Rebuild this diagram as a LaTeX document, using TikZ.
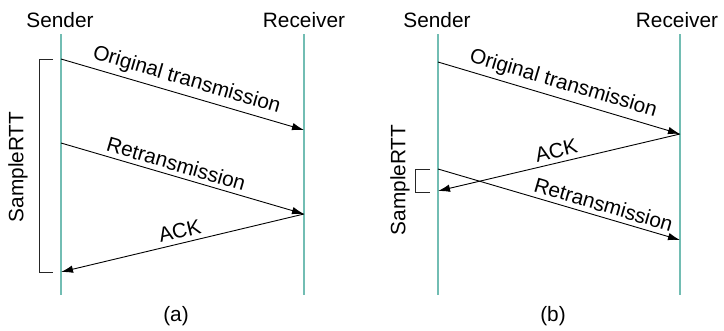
\documentclass[tikz,border=0pt]{standalone}
\usepackage{fontspec}
\setmainfont{Liberation Sans}
\usetikzlibrary{arrows.meta}
\definecolor{lifeline}{HTML}{72BDB3}
\begin{document}
\begin{tikzpicture}[x=1pt,y=-1pt,
  every node/.style={font=\fontsize{20.8}{24}\selectfont, inner sep=0pt},
  lifeln/.style={draw=lifeline, line width=2pt},
  msg/.style={draw=black, line width=0.9pt, -{Latex[length=12pt,width=7.5pt]}},
  brk/.style={draw=black!85, line width=0.9pt},
  lbl/.style={sloped, above=4.5pt}]
\useasboundingbox (0,0) rectangle (724,330);
% panel (a)
\coordinate (sAt) at (61,34); \coordinate (sAb) at (61,295);
\coordinate (rAt) at (304,34); \coordinate (rAb) at (304,295);
\draw[lifeln] (sAt) -- (sAb);
\draw[lifeln] (rAt) -- (rAb);
\node (senderA) at (60,20) {Sender};
\node (receiverA) at (304,20) {Receiver};
\coordinate (a1) at (61,59); \coordinate (a2) at (304,130);
\coordinate (a3) at (61,143); \coordinate (a4) at (304,214);
\coordinate (a5) at (61,272);
\draw[msg] (a1) -- node[lbl] (origA) {Original transmission} (a2);
\draw[msg] (a3) -- node[lbl, pos=0.46] (retrA) {Retransmission} (a4);
\draw[msg] (a4) -- node[lbl] (ackA) {ACK} (a5);
\coordinate (bA1) at (53,59); \coordinate (bA2) at (39,59);
\coordinate (bA3) at (39,272); \coordinate (bA4) at (53,272);
\draw[brk] (bA1) -- (bA2) -- (bA3) -- (bA4);
\node[rotate=90] (rttA) at (18,167) {SampleRTT};
\node (capA) at (176,316) {(a)};
% panel (b)
\coordinate (sBt) at (438,34); \coordinate (sBb) at (438,295);
\coordinate (rBt) at (680,34); \coordinate (rBb) at (680,295);
\draw[lifeln] (sBt) -- (sBb);
\draw[lifeln] (rBt) -- (rBb);
\node (senderB) at (437,20) {Sender};
\node (receiverB) at (677,20) {Receiver};
\coordinate (b1) at (438,62); \coordinate (b2) at (680,134);
\coordinate (b3) at (438,191);
\coordinate (b4) at (438,169); \coordinate (b5) at (680,240);
\draw[msg] (b1) -- node[lbl] (origB) {Original transmission} (b2);
\draw[msg] (b2) -- node[lbl] (ackB) {ACK} (b3);
\draw[msg] (b4) -- node[lbl, pos=0.67] (retrB) {Retransmission} (b5);
\coordinate (bB1) at (430,169); \coordinate (bB2) at (415,169);
\coordinate (bB3) at (415,192); \coordinate (bB4) at (430,192);
\draw[brk] (bB1) -- (bB2) -- (bB3) -- (bB4);
\node[rotate=90] (rttB) at (400,180) {SampleRTT};
\node (capB) at (553,316) {(b)};
\end{tikzpicture}
\end{document}
